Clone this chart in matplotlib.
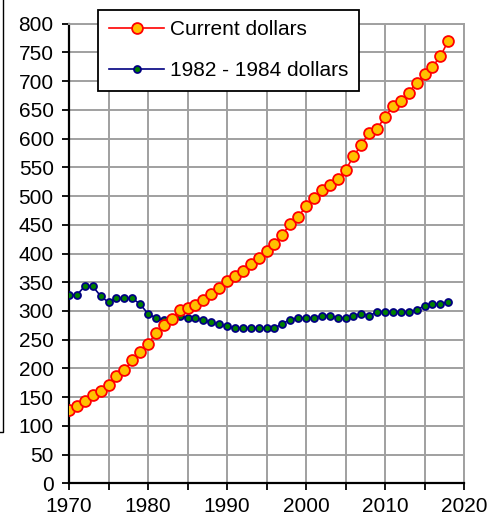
import matplotlib

matplotlib.use("Agg")

import matplotlib.pyplot as plt
from matplotlib.lines import Line2D
from matplotlib.ticker import MultipleLocator, FixedLocator


years = list(range(1970, 2019))

current_dollars = [
    127, 134, 144, 154, 161, 171, 186, 197, 214, 228,
    242, 262, 276, 286, 301, 306, 311, 319, 329, 340,
    353, 360, 370, 381, 392, 404, 416, 433, 451, 464,
    482, 497, 511, 520, 530, 545, 569, 589, 610, 617,
    638, 656, 666, 680, 697, 712, 725, 743, 770,
]

constant_dollars = [
    327, 328, 343, 343, 326, 315, 322, 322, 322, 312,
    295, 288, 284, 288, 291, 288, 288, 284, 280, 277,
    273, 270, 270, 270, 270, 270, 270, 278, 285, 288,
    288, 288, 292, 292, 288, 288, 292, 295, 292, 298,
    298, 298, 298, 298, 302, 309, 312, 312, 316,
]

series_labels = ["Current dollars", "1982 - 1984 dollars"]
x_tick_labels = ["1970", "1980", "1990", "2000", "2010", "2020"]

W, H = 489, 517
plt.rcParams["font.family"] = ["Liberation Sans", "DejaVu Sans"]

fig = plt.figure(figsize=(W / 100, H / 100), dpi=100)
ax = fig.add_axes([69 / W, 1 - 483.3 / H, (464 - 69) / W, (483.3 - 23.7) / H])

grid_color = "#a0a0a0"

ax.plot(
    years,
    current_dollars,
    color="#ff0000",
    linewidth=1.2,
    marker="o",
    markersize=7.8,
    markerfacecolor="#ffc000",
    markeredgecolor="#ff0000",
    markeredgewidth=1.3,
    label=series_labels[0],
    zorder=4,
)
ax.plot(
    years,
    constant_dollars,
    color="#000080",
    linewidth=1.2,
    marker="o",
    markersize=5.0,
    markerfacecolor="#008000",
    markeredgecolor="#000080",
    markeredgewidth=1.3,
    label=series_labels[1],
    zorder=3,
)

ax.set_xlim(1970, 2020)
ax.set_ylim(0, 800)
ax.xaxis.set_major_locator(FixedLocator([int(t) for t in x_tick_labels]))
ax.set_xticklabels(x_tick_labels)
ax.xaxis.set_minor_locator(MultipleLocator(5))
ax.yaxis.set_major_locator(MultipleLocator(50))

ax.grid(True, which="both", color=grid_color, linewidth=1.4)
ax.set_axisbelow(True)

for side in ("top", "right"):
    ax.spines[side].set_color(grid_color)
    ax.spines[side].set_linewidth(1.4)
for side in ("left", "bottom"):
    ax.spines[side].set_color("black")
    ax.spines[side].set_linewidth(1.6)

ax.tick_params(which="both", direction="out", length=5, width=1.3,
               color="black", labelsize=15)
ax.tick_params(axis="y", pad=6)
ax.tick_params(axis="x", pad=5)
ax.tick_params(axis="x", which="minor", labelbottom=False)

legend = fig.legend(
    loc="upper left",
    bbox_to_anchor=(98.5 / W, 1 - 10 / H),
    bbox_transform=fig.transFigure,
    fontsize=15,
    frameon=True,
    fancybox=False,
    shadow=False,
    framealpha=1,
    edgecolor="black",
    borderpad=0.5,
    handlelength=2.65,
    handletextpad=0.28,
    labelspacing=1.05,
    borderaxespad=0,
)
legend.get_frame().set_linewidth(1.3)
legend.set_zorder(10)

# edge of a neighbouring box, cut off at the left of the picture
fig.add_artist(Line2D([2.5 / W, 2.5 / W, 0], [1, 1 - 432 / H, 1 - 432 / H],
                      transform=fig.transFigure, color="black", linewidth=1.0))

fig.savefig("out.png", dpi=100)
